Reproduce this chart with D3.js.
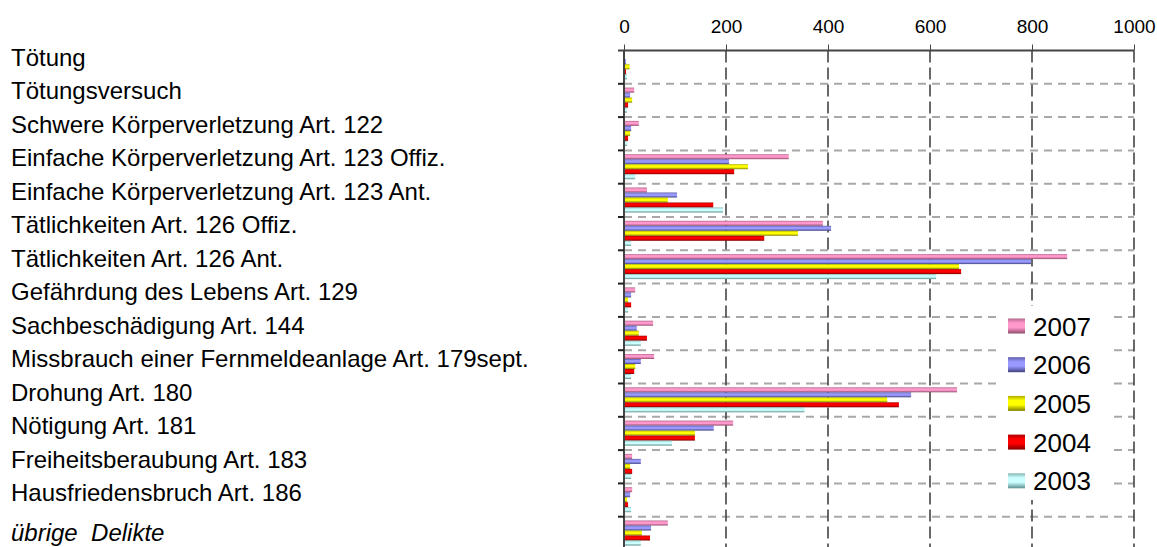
<!DOCTYPE html>
<html>
<head>
<meta charset="utf-8">
<script src="https://cdn.jsdelivr.net/npm/d3@7"></script>
<style>
  body { margin: 0; background: #fff; }
  svg { display: block; font-family: "Liberation Sans", Arial, sans-serif; }
</style>
</head>
<body>
<svg id="chart" width="1157" height="547"></svg>
<script>
const WIDTH = 1157;
const HEIGHT = 547;

const categories = [
  'Tötung',
  'Tötungsversuch',
  'Schwere Körperverletzung Art. 122',
  'Einfache Körperverletzung Art. 123 Offiz.',
  'Einfache Körperverletzung Art. 123 Ant.',
  'Tätlichkeiten Art. 126 Offiz.',
  'Tätlichkeiten Art. 126 Ant.',
  'Gefährdung des Lebens Art. 129',
  'Sachbeschädigung Art. 144',
  'Missbrauch einer Fernmeldeanlage Art. 179sept.',
  'Drohung Art. 180',
  'Nötigung Art. 181',
  'Freiheitsberaubung Art. 183',
  'Hausfriedensbruch Art. 186',
  'übrige  Delikte',
];

const years = ['2007', '2006', '2005', '2004', '2003'];

const v2007 = [1, 20, 29, 323, 45, 390, 869, 22, 57, 59, 653, 214, 16, 16, 86];
const v2006 = [4, 12, 14, 206, 104, 406, 798, 14, 25, 33, 563, 176, 33, 12, 53];
const v2005 = [11, 16, 12, 243, 86, 341, 657, 8, 29, 22, 516, 139, 12, 6, 35];
const v2004 = [4, 8, 8, 216, 175, 275, 661, 14, 45, 20, 539, 139, 16, 8, 51];
const v2003 = [6, 6, 6, 22, 194, 14, 612, 8, 33, 14, 354, 94, 14, 14, 33];

const xTicks = [0, 200, 400, 600, 800, 1000];

const seriesValues = { 2007: v2007, 2006: v2006, 2005: v2005, 2004: v2004, 2003: v2003 };

// body colour and darker edge colour for the shaded bars
const colors = {
  2007: { body: '#ff99cc', edge: '#8f4a6a' },
  2006: { body: '#9999ff', edge: '#404080' },
  2005: { body: '#ffff00', edge: '#808000' },
  2004: { body: '#ff0000', edge: '#800000' },
  2003: { body: '#ccffff', edge: '#5f8f8f' },
};

const svg = d3.select('#chart');

const x = d3.scaleLinear().domain([0, 1000]).range([624, 1134]);
const y = d3.scaleBand().domain(categories).range([50.5, 550]).padding(0);
const yInner = d3.scaleBand().domain(years).range([3.8, 28.8]).padding(0);
// row labels sit in their own text column; the last one is set a bit lower
const lastCat = categories[categories.length - 1];
const yLabel = d3.scalePoint().domain(categories.slice(0, -1)).range([65.5, 501]);
const labelY = (d) => (d === lastCat ? 541 : yLabel(d));

// gradients
const defs = svg.append('defs');
years.forEach((yr) => {
  const g = defs.append('linearGradient')
    .attr('id', `grad-${yr}`)
    .attr('x1', 0).attr('y1', 0).attr('x2', 0).attr('y2', 1);
  const c = colors[yr];
  g.append('stop').attr('offset', '0%').attr('stop-color', d3.interpolateRgb(c.edge, c.body)(0.35));
  g.append('stop').attr('offset', '30%').attr('stop-color', c.body);
  g.append('stop').attr('offset', '60%').attr('stop-color', c.body);
  g.append('stop').attr('offset', '100%').attr('stop-color', c.edge);
});

// horizontal gridlines at band boundaries
svg.append('g')
  .selectAll('line')
  .data(categories.slice(1))
  .join('line')
  .attr('x1', x(0))
  .attr('x2', x(1000))
  .attr('y1', (d) => y(d))
  .attr('y2', (d) => y(d))
  .attr('stroke', '#a8a8a8')
  .attr('stroke-width', 2)
  .attr('stroke-dasharray', '8,6');

// vertical gridlines
svg.append('g')
  .selectAll('line')
  .data(xTicks.slice(1))
  .join('line')
  .attr('x1', (d) => x(d))
  .attr('x2', (d) => x(d))
  .attr('y1', 50.5)
  .attr('y2', HEIGHT)
  .attr('stroke', '#444')
  .attr('stroke-width', 1.6)
  .attr('stroke-dasharray', '12,5');

// bars
const rows = categories.map((cat, i) => ({
  cat,
  bars: years.map((yr) => ({ yr, value: seriesValues[yr][i] })),
}));

const group = svg.append('g')
  .selectAll('g')
  .data(rows)
  .join('g')
  .attr('transform', (d) => `translate(0,${y(d.cat)})`);

group.selectAll('rect')
  .data((d) => d.bars)
  .join('rect')
  .attr('x', x(0))
  .attr('y', (d) => yInner(d.yr))
  .attr('width', (d) => x(d.value) - x(0))
  .attr('height', yInner.bandwidth())
  .attr('fill', (d) => `url(#grad-${d.yr})`);

// left axis line and ticks at band boundaries
svg.append('line')
  .attr('x1', x(0)).attr('x2', x(0))
  .attr('y1', 50.5).attr('y2', HEIGHT)
  .attr('stroke', '#444')
  .attr('stroke-width', 2);

svg.append('g')
  .selectAll('line')
  .data(categories.slice(1))
  .join('line')
  .attr('x1', x(0) - 6)
  .attr('x2', x(0))
  .attr('y1', (d) => y(d))
  .attr('y2', (d) => y(d))
  .attr('stroke', '#222')
  .attr('stroke-width', 2);

// top axis
const axis = svg.append('g')
  .attr('transform', 'translate(0,50.5)')
  .call(d3.axisTop(x).tickValues(xTicks).tickFormat(d3.format('d'))
    .tickSize(6).tickSizeOuter(0).tickPadding(12));
axis.select('.domain').remove();
axis.selectAll('.tick line').attr('stroke', '#444');
axis.selectAll('.tick text')
  .attr('font-size', 19)
  .attr('font-family', '"Liberation Sans", Arial, sans-serif')
  .attr('fill', '#000');

svg.append('line')
  .attr('x1', 618).attr('x2', x(1000))
  .attr('y1', 50.5).attr('y2', 50.5)
  .attr('stroke', '#444')
  .attr('stroke-width', 2);

// category labels
svg.append('g')
  .selectAll('text')
  .data(categories)
  .join('text')
  .attr('x', 11)
  .attr('y', labelY)
  .attr('font-size', 24)
  .attr('font-style', (d) => (d === lastCat ? 'italic' : 'normal'))
  .attr('fill', '#000')
  .style('white-space', 'pre')
  .text((d) => d);

// legend
svg.append('rect')
  .attr('x', 996).attr('y', 306)
  .attr('width', 112).attr('height', 194)
  .attr('fill', '#fff');

const legend = svg.append('g')
  .selectAll('g')
  .data(years)
  .join('g')
  .attr('transform', (d, i) => `translate(1008,${326 + i * 38.7})`);

legend.append('rect')
  .attr('x', 0).attr('y', -7.5)
  .attr('width', 17).attr('height', 15)
  .attr('fill', (d) => `url(#grad-${d})`);

legend.append('text')
  .attr('x', 25)
  .attr('y', 9.5)
  .attr('font-size', 26)
  .attr('fill', '#000')
  .text((d) => d);
</script>
</body>
</html>
